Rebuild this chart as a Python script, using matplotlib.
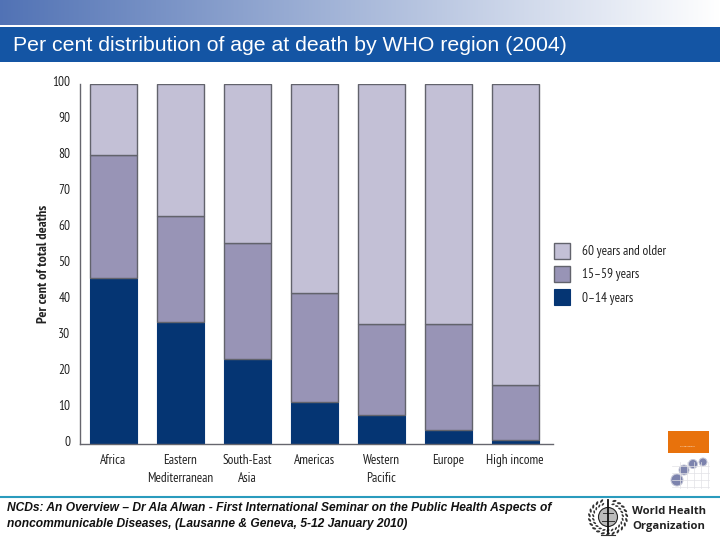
import numpy as np
import matplotlib
matplotlib.use('Agg')
import matplotlib.pyplot as plt
from matplotlib.patches import Rectangle, Circle, Ellipse
from matplotlib.transforms import ScaledTranslation

regions = ['Africa', 'Eastern\nMediterranean', 'South-East\nAsia', 'Americas',
           'Western\nPacific', 'Europe', 'High income']
age_0_14 = [46, 34, 23.5, 11.8, 8, 4, 1]
age_15_59 = [34.4, 29.3, 32.3, 30.2, 25.3, 29.3, 15.4]
age_60_plus = [19.6, 36.7, 44.2, 58, 66.7, 66.7, 83.6]
y_ticks = list(range(0, 101, 10))

title = 'Per cent distribution of age at death by WHO region (2004)'
footer = ('NCDs: An Overview \u2013 Dr Ala Alwan - First International Seminar on the '
          'Public Health Aspects of\nnoncommunicable Diseases, (Lausanne & Geneva, '
          '5-12 January 2010)')

NARROW = ['PT Sans Narrow', 'Lato', 'DejaVu Sans']
SANS = ['Liberation Sans', 'DejaVu Sans']
W, H = 720, 540

fig = plt.figure(figsize=(7.2, 5.4), dpi=100, facecolor='white')

# slide decoration, drawn in pixel coordinates
bg = fig.add_axes([0, 0, 1, 1])
bg.axis('off')

grad = np.linspace(0, 1, 256).reshape(1, -1, 1)
start = np.array([0.32, 0.45, 0.71]).reshape(1, 1, 3)
bg.imshow(start + (1 - start) * grad, extent=[0, W, 25, 0], aspect='auto')
bg.set_xlim(0, W)
bg.set_ylim(H, 0)
bg.add_patch(Rectangle((0, 27), W, 35, color='#1455a4', lw=0))
bg.text(13, 45.5, title, color='white', fontsize=15.3, family=SANS,
        ha='left', va='center')

bg.plot([0, W], [497, 497], color='#2a9bbd', lw=1.5)
bg.text(7, 516, footer, fontsize=8.65, family=SANS, style='italic', weight='bold',
        color='#111111', ha='left', va='center', linespacing=1.4)

# small report cover at the right
bg.add_patch(Rectangle((668, 431), 41, 22, color='#e8720c', lw=0))
bg.text(688, 446, 'Global burden', color='white', fontsize=1.5, ha='center', va='center')
for gx in range(680, 710, 7):
    bg.plot([gx, gx], [462, 488], color='#e2e2e6', lw=0.5)
for gy in range(466, 490, 7):
    bg.plot([672, 709], [gy, gy], color='#e2e2e6', lw=0.5)
for cx, cy, r in [(677, 480, 6), (684, 470, 5), (693, 464, 4.5), (703, 462, 4)]:
    bg.add_patch(Circle((cx, cy), r, facecolor='#7c83ad', edgecolor='#c5c7d6', lw=0.7))

# WHO emblem: wreath of small leaves round a globe and staff
for angle in np.radians(np.arange(-70, 255, 16)):
    for rad, size in [(17, 4.2), (13.5, 3.4)]:
        bg.add_patch(Ellipse((608 + rad * 1.1 * np.cos(angle), 517 + rad * np.sin(angle)),
                             size, size * 0.5, angle=np.degrees(angle) + 60,
                             facecolor='#333333', edgecolor='none'))
bg.add_patch(Circle((608, 517), 9.5, facecolor='#bbbbbb', edgecolor='#222222', lw=0.8))
bg.plot([603, 613], [513, 513], color='#333333', lw=0.7)
bg.plot([602, 614], [521, 521], color='#333333', lw=0.7)
bg.plot([608, 608], [500, 533], color='#111111', lw=1.3)
bg.plot([601, 615], [535, 535], color='#333333', lw=0.8)
bg.text(632, 512, 'World Health', fontsize=8.1, weight='bold', family=['Open Sans', 'DejaVu Sans'],
        color='#222222', ha='left', va='center')
bg.text(632, 526, 'Organization', fontsize=8.1, weight='bold', family=['Open Sans', 'DejaVu Sans'],
        color='#222222', ha='left', va='center')

# chart
left, right, top, bottom = 80, 553, 84, 444
ax = fig.add_axes([left / W, 1 - bottom / H, (right - left) / W, (bottom - top) / H])
ax.patch.set_alpha(0)

x = np.arange(len(regions))
bar_w = 47 / 67
edge = '#62636c'
low = np.array(age_0_14)
mid = np.array(age_15_59)
high = np.array(age_60_plus)
ax.bar(x, low, bar_w, color='#053573', edgecolor='#053573', lw=0.8, label='0\u201314 years')
ax.bar(x, mid, bar_w, bottom=low, color='#9894b6', edgecolor=edge, lw=1, label='15\u201359 years')
ax.bar(x, high, bar_w, bottom=low + mid, color='#c3c0d6', edgecolor=edge, lw=1,
       label='60 years and older')

ax.set_xlim(-(113 - left) / 67, (right - 113) / 67)
ax.set_ylim(0, 100)
ax.set_xticks(x)
ax.set_xticklabels(regions, family=NARROW, fontsize=9.5, color='#222222', linespacing=1.5)
ax.set_yticks(y_ticks)
ax.set_yticklabels(y_ticks, family=NARROW, fontsize=9.5, color='#222222')
ax.tick_params(axis='both', length=0)
ax.tick_params(axis='x', pad=7)
ax.tick_params(axis='y', pad=7)
# the source labels sit slightly above their gridline level
lift = ScaledTranslation(0, 2 / 72, fig.dpi_scale_trans)
for lab in ax.get_yticklabels():
    lab.set_transform(lab.get_transform() + lift)
ax.set_ylabel('Per cent of total deaths', family=NARROW, fontsize=10.3, weight='bold',
              color='#222222')
ax.yaxis.set_label_coords(-30 / (right - left), 0.5)
for side in ['top', 'right']:
    ax.spines[side].set_visible(False)
for side in ['left', 'bottom']:
    ax.spines[side].set_color('#66666e')
    ax.spines[side].set_linewidth(1)

handles, labels = ax.get_legend_handles_labels()
ax.legend(handles[::-1], labels[::-1], loc='center left',
          bbox_to_anchor=((554 - left) / (right - left), (444 - 274) / 360),
          frameon=False, borderpad=0, borderaxespad=0,
          prop={'family': NARROW, 'size': 9.5},
          handlelength=1.21, handleheight=1.5, handletextpad=0.95,
          labelspacing=0.55, labelcolor='#222222')

plt.savefig('out.png', dpi=100)
plt.close()
print('Saved: out.png')
